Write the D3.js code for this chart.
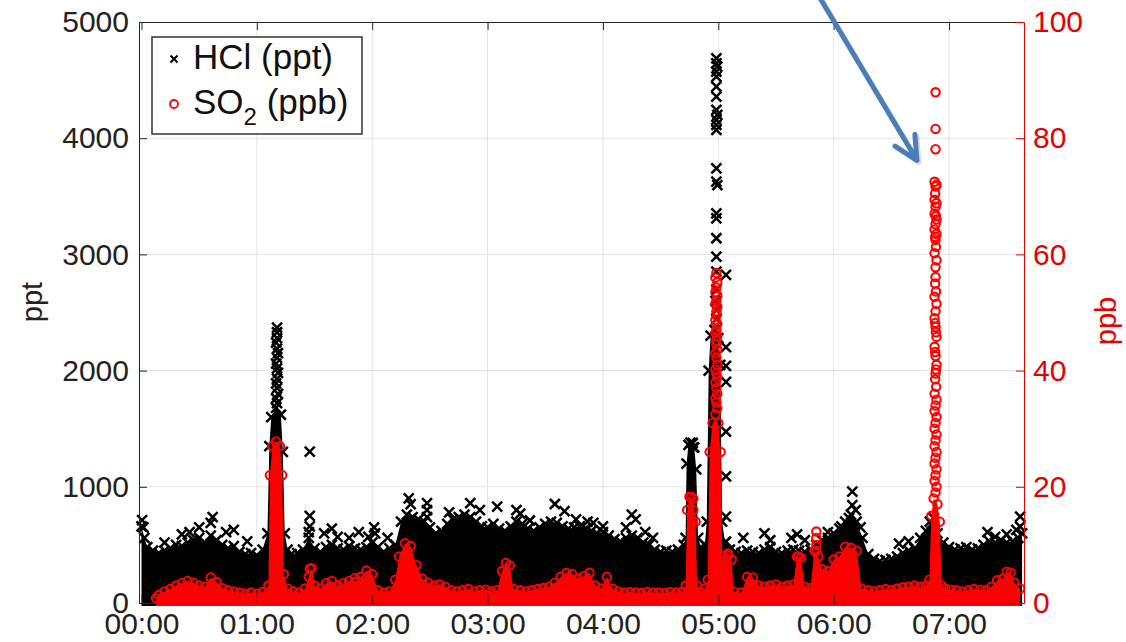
<!DOCTYPE html>
<html>
<head>
<meta charset="utf-8">
<script src="https://cdn.jsdelivr.net/npm/d3@7"></script>
<style>
  body { margin: 0; background: #fff; }
  svg text { font-family: "Liberation Sans", Arial, Helvetica, sans-serif; }
</style>
</head>
<body>
<div id="chart"></div>
<script>
'use strict';

// time in minutes after 00:00
var hourTicks = [0, 60, 120, 180, 240, 300, 360, 420];
var hourLabels = ['00:00', '01:00', '02:00', '03:00', '04:00', '05:00', '06:00', '07:00'];
var hclTicks = [0, 1000, 2000, 3000, 4000, 5000];
var so2Ticks = [0, 20, 40, 60, 80, 100];

// top of the dense HCl cloud [minute, ppt]
var hclBand = [
  [0,660],[1.5,560],[3,480],[6,450],[9,430],[12,450],[15,470],[18,500],[21,490],[24,520],
  [27,540],[30,560],[33,520],[36,580],[39,540],[42,500],[45,470],[48,490],[51,440],[54,420],
  [57,430],[60,410],[63,460],[65.5,600],[66.5,1350],[67.5,1600],[70,1680],[72.5,1620],[73.5,1300],[74.5,600],
  [76,460],[78,420],[81,430],[84,460],[87,560],[90,470],[93,440],[96,480],[99,500],[102,470],
  [105,460],[108,490],[111,470],[114,460],[117,480],[120,520],[123,480],[126,440],[129,470],[132,500],
  [135,700],[138,760],[141,740],[144,720],[147,700],[150,650],[153,600],[156,620],[159,680],[162,720],
  [165,740],[168,760],[171,740],[174,700],[177,660],[180,650],[183,680],[186,640],[189,620],[192,660],
  [195,700],[198,680],[201,640],[204,620],[207,650],[210,680],[213,700],[216,690],[219,660],[222,640],
  [225,650],[228,660],[231,640],[234,620],[237,600],[240,610],[243,580],[246,550],[249,530],[252,560],
  [255,580],[258,560],[261,520],[264,500],[267,460],[270,440],[273,450],[276,440],[279,460],[282,500],
  [283,560],[283.5,1200],[284.5,1360],[287.5,1340],[288.5,1150],[289.5,560],[291,480],[293,500],[294,700],[295,2000],
  [296,2300],[298,2350],[300,2280],[301,2050],[302,700],[303.5,520],[306,460],[309,440],[312,430],[315,450],
  [318,440],[321,430],[324,460],[327,480],[330,440],[333,430],[336,450],[339,460],[342,450],[345,440],
  [348,460],[351,500],[354,540],[357,560],[360,600],[363,640],[366,700],[369,760],[372,700],[375,560],
  [378,420],[381,380],[384,360],[387,370],[390,380],[393,400],[396,430],[399,450],[402,470],[405,560],
  [408,620],[411,680],[414,600],[417,520],[420,480],[423,460],[426,470],[429,480],[432,460],[435,470],
  [438,500],[441,530],[444,520],[447,540],[450,520],[453,530],[456,560],[458,600]
];

// single HCl points standing out of the cloud [minute, ppt]
var hclPoints = [
  [0.3,714],[1,650],[12,520],[21,590],[25,610],[30,650],[36,690],[37,740],[44,610],[48,630],[55,530],
  [70.5,1720],[70,1760],[71,1800],[70.5,1850],[70,1890],[70.5,1930],[71,1980],[70.5,2020],[70,2060],
  [70.5,2110],[71,2150],[70.5,2190],[70,2240],[70.5,2280],[70.5,2330],[70.5,2370],
  [87.5,1302],[87.5,750],[87.5,660],[87,610],[95,600],[99,640],[102,570],[108,560],[113,610],[118,570],
  [121,650],[121.5,600],[128,560],[139,900],[140,850],[148.5,860],[148.5,800],[148.5,740],[160,780],
  [171,860],[176,800],[185,830],[195,800],[197,770],[202,710],[215,852],[220,790],[226,720],
  [232,700],[235,690],[240,660],[252,650],[255,760],[257,720],[262,610],[266,560],
  [285.5,1380],[286.7,1377],[287,1340],
  [299,4687],[299,4644],[299.5,4616],[299,4573],[299,4530],[299,4443],[299,4357],[299,4243],[299.5,4200],
  [299,4157],[299,4114],[299,4071],[299,3741],[299,3626],[299.5,3597],[299,3354],[299,3311],[299,3139],
  [299,2980],[299,2851],[299,2700],[298.5,2600],[299,2520],[299,2440],
  [304,2823],[304,2203],[304,2040],[304,1902],[304,1474],[304,1090],[304,743],[304,528],
  [313,560],[324,600],[327,540],[338,560],[341,590],[345,540],
  [357,610],[364,660],[368,730],[369.7,958],[369.7,843],[371.5,800],[374,650],
  [394,510],[399,530],[410,700],[412,730],[440,610],[444,570],[450,590],[455,630],[457,743],[457,657]
];

// top of the dense SO2 cloud [minute, ppb]
var so2Band = [
  [7.5,0.8],[9,1.4],[12,2.0],[15,2.4],[18,3.0],[21,3.4],[24,3.8],[27,3.5],[30,3.0],[33,2.8],
  [36,4.4],[39,3.6],[42,2.6],[45,2.2],[48,2.0],[51,1.8],[54,1.6],[57,1.8],[60,1.6],[63,1.9],
  [66,3],[66.8,22],[68,27],[70,27.8],[72,27],[73.2,22],[74,5],[76,2.5],[79,2.0],[82,1.8],
  [85,2.5],[87,4.5],[88.5,6.0],[90,3.0],[93,2.5],[96,3.4],[99,3.8],[102,3.0],[105,3.4],[108,3.8],
  [111,3.6],[114,4.5],[117,5.6],[120,5.0],[123,2.2],[126,1.8],[129,2.0],[132,4.0],[134,8.0],[137,10.3],
  [140,9.8],[143,6.5],[146,4.2],[149,3.5],[152,3.0],[155,3.2],[158,2.8],[161,2.2],[164,2.0],[167,2.2],
  [170,2.4],[173,2.0],[176,2.2],[179,2.3],[182,2.0],[185,2.2],[187.5,5.5],[189.5,6.9],[191.5,6.5],[193.5,2.4],
  [197,2.2],[200,2.0],[203,2.2],[206,2.4],[209,2.6],[212,2.8],[215,3.5],[218,4.5],[221,5.2],[224,5.0],
  [227,4.2],[230,4.6],[233,5.2],[236,3.0],[239,2.5],[242,4.5],[245,2.5],[248,2.0],[251,1.8],[254,1.9],
  [257,1.8],[260,1.7],[263,1.9],[266,1.8],[269,1.8],[272,1.7],[275,1.9],[278,1.8],[281,1.9],[283,3],
  [283.8,16],[285,18.3],[287,18],[288.2,14],[289,3],[290.5,2.0],[293,2.5],[294.5,4],[295.5,26],[297,31],
  [300,31],[301.2,26],[302,8],[303,8],[305,8.2],[307,7.5],[308,2.0],[312,1.8],[315,4.5],[318,4.4],
  [321,3.0],[324,2.8],[327,3.0],[330,3.2],[333,2.8],[336,3.0],[339,3.2],[341,8.0],[343,7.8],[345,2.8],
  [348,2.6],[350,9],[352,8],[354,5.8],[357,5.5],[360,7.5],[363,8.0],[366,9.7],[369,9.5],[372,9.0],
  [374.5,2.5],[378,2.2],[381,2.0],[384,2.2],[387,2.4],[390,2.2],[393,2.5],[396,2.7],[399,2.8],[402,3.0],
  [405,2.8],[408,3.0],[409.8,4],[410.8,15],[412,18],[414,17],[415.2,14],[416.2,3],[418,2.5],[421,2.3],
  [424,2.2],[427,2.0],[430,2.2],[433,2.4],[436,2.3],[439,2.2],[442,2.8],[445,3.9],[448,4.2],[450,5.4],
  [452,5.2],[454,3.5],[457,2.5]
];

// single SO2 points [minute, ppb]
var so2Points = [
  [87.5,5.9],[111,4.3],[286,18.3],[287,16],[286.5,14],
  [299,56.8],[298.5,56.0],[299.5,55.2],[299,54.3],[298.5,53.5],[299.5,52.8],[299,52.0],[298.5,51.5],
  [299.5,51.0],[299,50.2],[299,49.5],[298.5,48.7],[299.5,48.0],[299,47.0],[298.5,46.5],[299.5,46.0],
  [299,45.2],[299,44.5],[298.5,43.0],[299.5,43.6],[299,42.2],[299.5,41.0],[298.5,40.2],[299,39.5],
  [298.5,38.0],[299.5,38.8],[299,37.0],[299.5,36.0],[298.5,35.2],[299,34.5],[299.5,33.5],[298.5,32.5],
  [305,8.5],[304.5,7.5],[341.7,8.0],[351,12.3],[351,11.2],[351,10.0],[351,9.0],
  [413,87.9],[413,81.6],[413,78.1],[412.5,72.5],[413.5,72.0],[413,71.7],[412.5,69.4],[413.5,68.8],
  [413,68.2],[412.5,67.0],[413.5,66.0],[413,65.2],[412.5,64.3],[413.5,63.5],[413,62.5],[412.5,60.2],
  [413.5,59.0],[413,57.8],[413,56.1],[412.5,52.7],[413.5,51.5],[413,50.2],[412.5,49.0],[413,47.5],
  [413.5,45.8],[412.5,44.1],[413,42.5],[413.5,41.0],[413,39.5],[412.5,36.0],[413.5,35.0],[413,34.0],
  [412.5,33.0],[413.5,32.0],[413,31.0],[412.5,30.0],[413.5,29.0],[413,28.0],[412.5,27.0],[413.5,26.0],
  [413,25.0],[412.5,24.0],[413.5,23.0],[413,22.0],[412.5,21.0],[413.5,20.0],[413,19.0],
  [413.3,37.2],[412.8,38.5],[413.2,40.2],[412.8,43.2],[413.2,46.6],[412.8,48.2],[413.2,53.6],[412.8,55.0],
  [413.2,61.3],[412.8,63.0],[413.2,66.6],[412.8,70.5]
];

// annotation arrow, in chart units [minute, ppb]
var arrowFrom = [350.4, 105.5];
var arrowTo = [403.3, 76.2];

var width = 1126, height = 642;
var plot = {left: 139, right: 1024, top: 22, bottom: 603};
var redAxis = '#e60000';
var ink = '#222';

var svg = d3.select('#chart').append('svg')
  .attr('width', width)
  .attr('height', height);

var x = d3.scaleLinear().domain([-1.3, 459]).range([plot.left, plot.right]);
var yHcl = d3.scaleLinear().domain([0, 5000]).range([plot.bottom, plot.top]);
var ySo2 = d3.scaleLinear().domain([0, 100]).range([plot.bottom, plot.top]);

// grid
var grid = svg.append('g').attr('stroke', '#e3e3e3').attr('stroke-width', 1);
grid.selectAll('.vg').data(hourTicks.slice(1)).enter().append('line')
  .attr('x1', function(d) { return x(d); }).attr('x2', function(d) { return x(d); })
  .attr('y1', plot.top).attr('y2', plot.bottom);
grid.selectAll('.hg').data(hclTicks.slice(1, -1)).enter().append('line')
  .attr('x1', plot.left).attr('x2', plot.right)
  .attr('y1', function(d) { return yHcl(d); }).attr('y2', function(d) { return yHcl(d); });

// HCl cloud
var hclArea = d3.area()
  .x(function(d) { return x(d[0]); })
  .y0(plot.bottom + 3)
  .y1(function(d) { return yHcl(d[1]); });
svg.append('path').datum(hclBand).attr('d', hclArea).attr('fill', '#000');

var crossPath = function(s) {
  return 'M' + (-s) + ',' + (-s) + 'L' + s + ',' + s + 'M' + (-s) + ',' + s + 'L' + s + ',' + (-s);
};

svg.append('g').selectAll('path').data(hclBand.concat(hclPoints)).enter().append('path')
  .attr('d', crossPath(5))
  .attr('transform', function(d) { return 'translate(' + x(d[0]) + ',' + yHcl(d[1]) + ')'; })
  .attr('stroke', '#000').attr('stroke-width', 2.5).attr('fill', 'none');

// SO2 cloud
var so2Area = d3.area()
  .x(function(d) { return x(d[0]); })
  .y0(plot.bottom + 3)
  .y1(function(d) { return ySo2(d[1]); });
svg.append('path').datum(so2Band).attr('d', so2Area).attr('fill', '#ff0000');

svg.append('g').selectAll('circle').data(so2Band.concat(so2Points)).enter().append('circle')
  .attr('cx', function(d) { return x(d[0]); })
  .attr('cy', function(d) { return ySo2(d[1]); })
  .attr('r', 4.2)
  .attr('fill', 'none').attr('stroke', '#f00').attr('stroke-width', 2.1);

// axes
var styleAxis = function(g, color) {
  g.attr('font-size', 30).attr('font-family', null);
  g.selectAll('.domain').attr('stroke', color);
  g.selectAll('.tick line').attr('stroke', color);
  g.selectAll('.tick text').attr('fill', color === redAxis ? redAxis : ink);
};

var gBottom = svg.append('g').attr('transform', 'translate(0,' + plot.bottom + ')')
  .call(d3.axisBottom(x).tickValues(hourTicks)
    .tickFormat(function(d, i) { return hourLabels[i]; })
    .tickSizeInner(-8).tickSizeOuter(0).tickPadding(10));
styleAxis(gBottom, '#262626');

var gTop = svg.append('g').attr('transform', 'translate(0,' + plot.top + ')')
  .call(d3.axisTop(x).tickValues(hourTicks).tickFormat('')
    .tickSizeInner(-8).tickSizeOuter(0));
styleAxis(gTop, '#262626');

var gLeft = svg.append('g').attr('transform', 'translate(' + plot.left + ',0)')
  .call(d3.axisLeft(yHcl).tickValues(hclTicks).tickFormat(d3.format('d'))
    .tickSizeInner(-8).tickSizeOuter(0).tickPadding(10));
styleAxis(gLeft, '#262626');

var gRight = svg.append('g').attr('transform', 'translate(' + plot.right + ',0)')
  .call(d3.axisRight(ySo2).tickValues(so2Ticks).tickFormat(d3.format('d'))
    .tickSizeInner(-8).tickSizeOuter(0).tickPadding(9));
styleAxis(gRight, redAxis);

// axis titles
svg.append('text')
  .attr('transform', 'translate(42,302) rotate(-90)')
  .attr('text-anchor', 'middle').attr('font-size', 29).attr('fill', ink)
  .text('ppt');
svg.append('text')
  .attr('transform', 'translate(1116,321) rotate(-90)')
  .attr('text-anchor', 'middle').attr('font-size', 29).attr('fill', redAxis)
  .text('ppb');

// legend
var legend = svg.append('g').attr('transform', 'translate(152,37)');
legend.append('rect').attr('width', 210).attr('height', 97)
  .attr('fill', '#fff').attr('stroke', '#333').attr('stroke-width', 1.5);
legend.append('path').attr('d', crossPath(3.5))
  .attr('transform', 'translate(22,22)')
  .attr('stroke', '#000').attr('stroke-width', 2).attr('fill', 'none');
legend.append('text').attr('x', 41).attr('y', 32).attr('font-size', 35).attr('fill', '#111')
  .text('HCl (ppt)');
legend.append('circle').attr('cx', 22).attr('cy', 67).attr('r', 4)
  .attr('fill', 'none').attr('stroke', '#f00').attr('stroke-width', 1.8);
var so2Label = legend.append('text').attr('x', 41).attr('y', 77).attr('font-size', 35).attr('fill', '#111');
so2Label.append('tspan').text('SO');
so2Label.append('tspan').attr('font-size', 24).attr('dy', 11).text('2');
so2Label.append('tspan').attr('dy', -11).text(' (ppb)');

// arrow
var ax0 = x(arrowFrom[0]), ay0 = ySo2(arrowFrom[1]);
var ax1 = x(arrowTo[0]), ay1 = ySo2(arrowTo[1]);
var back = Math.atan2(ay0 - ay1, ax0 - ax1);
var wing = function(sign) {
  var a = back + sign * 0.46;
  return [ax1 + 26 * Math.cos(a), ay1 + 26 * Math.sin(a)];
};
var w1 = wing(1), w2 = wing(-1);
var arrowD = 'M' + ax0 + ',' + ay0 + 'L' + ax1 + ',' + ay1 +
  'M' + w1[0] + ',' + w1[1] + 'L' + ax1 + ',' + ay1 + 'L' + w2[0] + ',' + w2[1];
svg.append('path').attr('d', arrowD)
  .attr('transform', 'translate(2,2)')
  .attr('stroke', 'rgba(0,0,0,0.15)').attr('stroke-width', 5).attr('fill', 'none')
  .attr('stroke-linecap', 'round').attr('stroke-linejoin', 'round');
svg.append('path').attr('d', arrowD)
  .attr('stroke', '#4a7ebb').attr('stroke-width', 5).attr('fill', 'none')
  .attr('stroke-linecap', 'round').attr('stroke-linejoin', 'round');
</script>
</body>
</html>
